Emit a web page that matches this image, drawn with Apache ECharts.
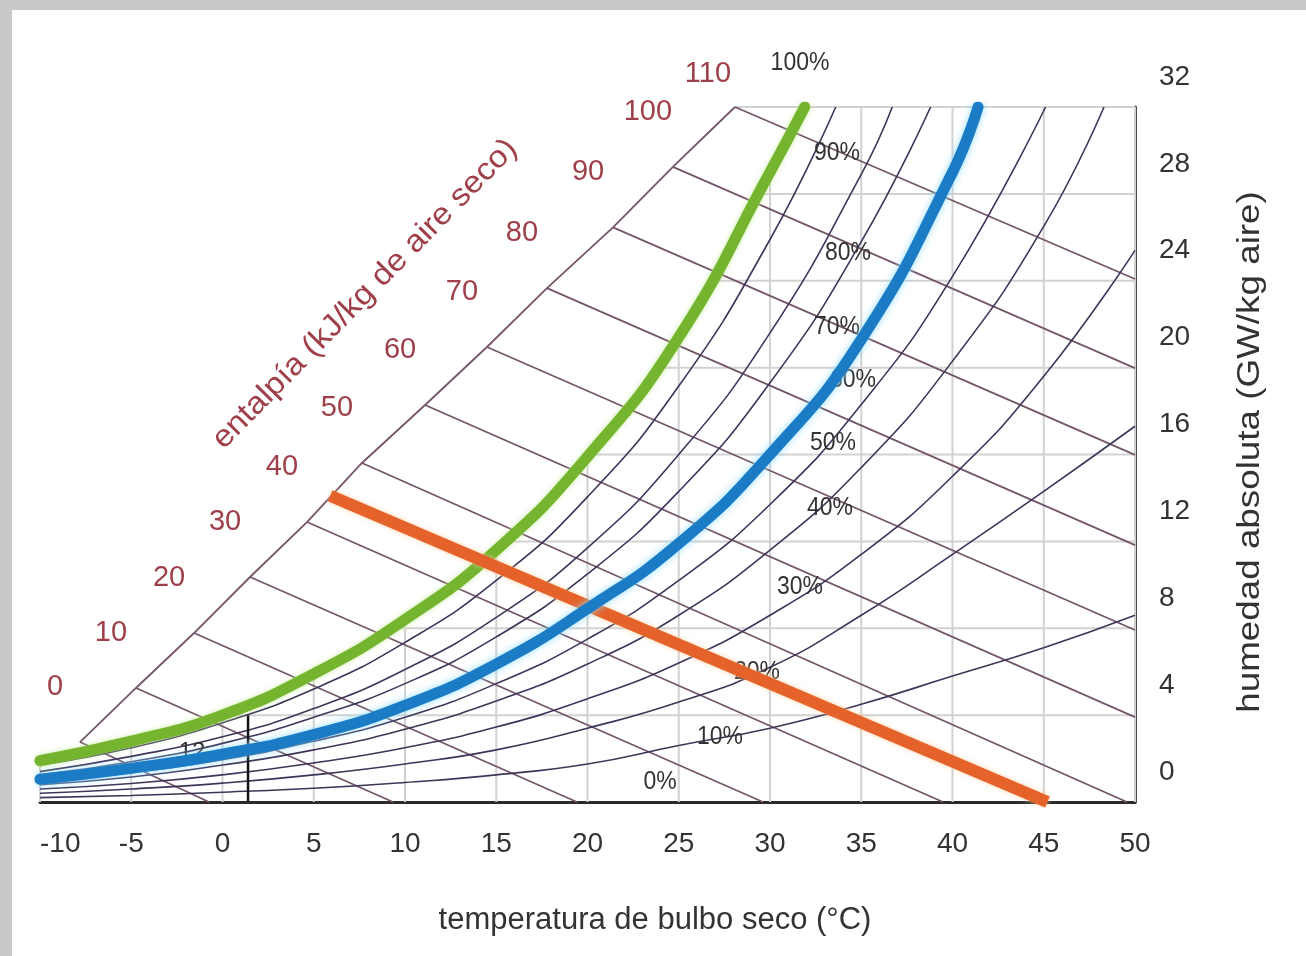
<!DOCTYPE html>
<html><head><meta charset="utf-8">
<script src="https://cdn.jsdelivr.net/npm/echarts@6/dist/echarts.min.js"></script>
<style>html,body{margin:0;padding:0;background:#c9c9c9}#c{width:1306px;height:956px}</style>
</head><body><div id="c"></div>
<script>
// ---- data ----
const tempTicks = [-10, -5, 0, 5, 10, 15, 20, 25, 30, 35, 40, 45, 50];
const humidityTicks = [0, 4, 8, 12, 16, 20, 24, 28, 32];
// relative humidity curves: [temperature °C, humedad absoluta]
const rh100 = [[-10,1.9],[-5,2.8],[0,4.0],[5,5.9],[10,8.4],[15,11.6],[20,15.9],[25,21.4],[30,29.0],[31.9,32]]; // green
const rh90 = [[-10,1.7],[-5,2.5],[0,3.65],[5,5.2],[10,7.35],[15,10.2],[20,14.05],[25,19.15],[30,25.9],[33.6,32]];
const rh80 = [[-10,1.4],[-5,2.1],[0,3.0],[5,4.3],[10,6.1],[15,8.5],[20,11.7],[25,16.0],[30,21.6],[35,28.9],[36.7,32]];
const rh70 = [[-10,1.25],[-5,1.85],[0,2.7],[5,3.9],[10,5.45],[15,7.6],[20,10.5],[25,14.3],[30,19.3],[35,25.8],[38.8,32]];
const rh60 = [[-10,1.05],[-5,1.55],[0,2.2],[5,3.1],[10,4.45],[15,6.35],[20,8.9],[25,11.9],[30,16.0],[35,21.3],[40,29.0],[41.4,32]]; // blue
const rh50 = [[-10,0.9],[-5,1.35],[0,1.95],[5,2.8],[10,3.9],[15,5.45],[20,7.5],[25,10.2],[30,13.7],[35,18.3],[40,24.2],[45.1,32]];
const rh40 = [[-10,0.8],[-5,1.15],[0,1.7],[5,2.4],[10,3.35],[15,4.65],[20,6.35],[25,8.6],[30,11.6],[35,15.4],[40,20.3],[45,26.5],[48.3,32]];
const rh30 = [[-10,0.6],[-5,0.85],[0,1.25],[5,1.8],[10,2.5],[15,3.45],[20,4.75],[25,6.4],[30,8.6],[35,11.4],[40,15.0],[45,19.6],[50,25.4]];
const rh20 = [[-10,0.4],[-5,0.6],[0,0.87],[5,1.25],[10,1.75],[15,2.4],[20,3.4],[25,4.6],[30,6.2],[35,8.6],[40,11.4],[45,14.3],[50,17.3]];
const rh10 = [[-10,0.2],[-5,0.3],[0,0.45],[5,0.63],[10,0.9],[15,1.25],[20,1.75],[25,2.6],[30,3.4],[35,4.5],[40,5.8],[45,7.1],[50,8.6]];
// enthalpy lines (kJ/kg de aire seco): start on the diagonal scale, end on the frame
const enthalpyValues = [0, 10, 20, 30, 40, 50, 60, 70, 80, 90, 100, 110];
const enthalpyStart = [[-7.81,2.76],[-4.74,5.25],[-1.56,7.78],[1.51,10.36],[4.63,12.89],[7.64,15.61],[11.10,18.28],[14.49,20.95],[17.78,23.66],[21.40,26.46],[24.68,29.24],[28.08,32.0]];
const enthalpyEnd = [[-0.74,0],[9.34,0],[19.42,0],[29.62,0],[39.48,0],[49.56,0],[50,3.91],[50,7.92],[50,11.83],[50,15.98],[50,19.98],[50,24.08]];
// highlighted process lines
const orangeLine = [[5.9,14.1],[45.2,0]];
const markerLine = [[1.4,0],[1.4,4.0]];
const markerText = '12';
const rhLabels = ['100%','90%','80%','70%','60%','50%','40%','30%','20%','10%','0%'];

// ---- layout helpers ----
const FONT = '"Liberation Sans", Arial, sans-serif';
function interpY(curve, x) {
  if (x <= curve[0][0]) return curve[0][1];
  for (let i = 1; i < curve.length; i++) {
    if (x <= curve[i][0]) {
      const a = curve[i-1], b = curve[i];
      return a[1] + (b[1]-a[1]) * (x-a[0]) / (b[0]-a[0]);
    }
  }
  return 32;
}
function interpX(curve, y) {
  for (let i = 1; i < curve.length; i++) {
    if (y <= curve[i][1]) {
      const a = curve[i-1], b = curve[i];
      return a[0] + (b[0]-a[0]) * (y-a[1]) / (b[1]-a[1]);
    }
  }
  return curve[curve.length-1][0];
}
function lineSeries(data, color, width, z, smooth, extra) {
  return Object.assign({
    type: 'line', data: data, symbol: 'none', showSymbol: false, silent: true,
    smooth: smooth ? 0.5 : false,
    lineStyle: { color: color, width: width }, z: z, animation: false
  }, extra || {});
}

const series = [];
// grid lines clipped at the saturation curve
const GRID = '#d2d2d2';
tempTicks.forEach(t => {
  const top = Math.min(32, interpY(rh100, t));
  series.push(lineSeries([[t, top], [t, 0]], GRID, 2, 1));
});
humidityTicks.slice(1, -1).forEach(w => {
  series.push(lineSeries([[interpX(rh100, w), w], [50, w]], GRID, 2, 1));
});
series.push(lineSeries([enthalpyStart[enthalpyStart.length-1], [50, 32]], GRID, 2, 1));

// enthalpy lines + diagonal scale
const ENTH = '#74566a';
enthalpyValues.forEach((h, i) => {
  series.push(lineSeries([enthalpyStart[i], enthalpyEnd[i]], ENTH, 1.8, 2));
});
series.push(lineSeries(enthalpyStart, ENTH, 1.8, 2));
series.push({
  type: 'scatter', silent: true, animation: false, symbolSize: 0, z: 3,
  itemStyle: { opacity: 1 },
  data: enthalpyStart.map((p, i) => ({
    value: p,
    label: i === enthalpyStart.length - 1 ? { offset: [-27, -33] } : undefined
  })),
  label: {
    show: true, position: 'inside', offset: [-25, -55], opacity: 1,
    formatter: p => String(enthalpyValues[p.dataIndex]),
    fontSize: 29, color: '#9e3f49', fontFamily: FONT
  }
});

// thin relative humidity curves
const RH = '#3e3559';
[rh90, rh80, rh70, rh50, rh40, rh30, rh20, rh10].forEach(c => {
  series.push(lineSeries(c, RH, 1.6, 2, true));
});
// marker
series.push(lineSeries(markerLine, '#111111', 2.5, 3));
// thick lines
series.push(lineSeries(rh100, '#74b42f', 11, 4, true, {
  lineStyle: { color: '#74b42f', width: 11, cap: 'round', shadowColor: 'rgba(190,235,140,0.8)', shadowBlur: 5 }
}));
series.push(lineSeries(orangeLine, '#e5632a', 12, 5, false, {
  lineStyle: { color: '#e5632a', width: 12, shadowColor: 'rgba(255,200,150,0.8)', shadowBlur: 5 }
}));
series.push(lineSeries(rh60, '#1b7bc4', 11, 6, true, {
  lineStyle: { color: '#1b7bc4', width: 11, cap: 'round', shadowColor: 'rgba(140,220,255,0.95)', shadowBlur: 7 }
}));

// text annotations (pixel layout)
const rhLabelPos = [[800,63],[837,153],[848,253],[837,327],[853,380],[833,443],[830,508],[800,587],[757,672],[720,737],[660,782]];
const graphics = [
  { type: 'rect', z: -100, shape: { x: 12, y: 10, width: 1294, height: 946 }, style: { fill: '#ffffff' } },
  { type: 'text', z: 10, x: 655, y: 920, style: { text: 'temperatura de bulbo seco (°C)', font: '31px ' + FONT, fill: '#333', align: 'center', verticalAlign: 'middle' } },
  { type: 'text', z: 10, x: 1250, y: 452, rotation: Math.PI / 2, scaleX: 1.15, style: { text: 'humedad absoluta (GW/kg aire)', font: '32px ' + FONT, fill: '#333', align: 'center', verticalAlign: 'middle' } },
  { type: 'text', z: 10, x: 365, y: 294, rotation: 45.5 * Math.PI / 180, scaleX: 1.08, style: { text: 'entalpía (kJ/kg de aire seco)', font: '31px ' + FONT, fill: '#9e3f49', align: 'center', verticalAlign: 'middle' } },
  { type: 'text', z: 3, x: 192, y: 752, style: { text: markerText, font: '24px ' + FONT, fill: '#333', align: 'center', verticalAlign: 'middle' } }
];
rhLabels.forEach((t, i) => {
  graphics.push({ type: 'text', z: 3, x: rhLabelPos[i][0], y: rhLabelPos[i][1], scaleY: 1.15,
    style: { text: t, font: '23px ' + FONT, fill: '#333', align: 'center', verticalAlign: 'middle' } });
});

const chart = echarts.init(document.getElementById('c'), null, { renderer: 'canvas' });
chart.setOption({
  backgroundColor: '#c9c9c9',
  animation: false,
  grid: { left: 40, right: 171, top: 107, bottom: 154, containLabel: false },
  xAxis: {
    type: 'value', min: -10, max: 50, interval: 5,
    axisLine: { show: true, onZero: false, lineStyle: { color: '#2a2a2a', width: 3 } },
    axisTick: { show: false }, splitLine: { show: false },
    axisLabel: { fontSize: 28, color: '#333', margin: 28, fontFamily: FONT, alignMinLabel: 'left' }
  },
  yAxis: {
    type: 'value', min: 0, max: 32, interval: 4, position: 'right',
    axisLine: { show: true, onZero: false, lineStyle: { color: '#4a4a4a', width: 3 } },
    axisTick: { show: false }, splitLine: { show: false },
    axisLabel: { fontSize: 28, color: '#333', margin: 24, fontFamily: FONT, verticalAlign: 'bottom', padding: [0, 0, 16, 0] }
  },
  graphic: { elements: graphics },
  series: series
});
</script></body></html>
